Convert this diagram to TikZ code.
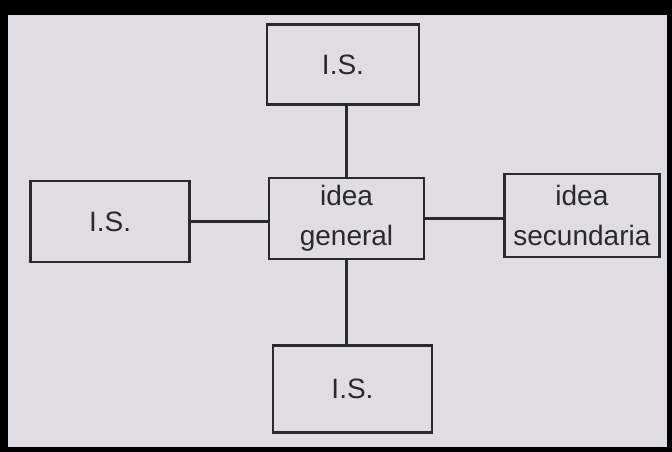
\documentclass[tikz,border=0pt]{standalone}
\usepackage{fontspec}
\setmainfont{Liberation Sans}
\usepackage{xcolor}
\usetikzlibrary{positioning}
\definecolor{paper}{HTML}{E0DDE2}
\definecolor{ink}{HTML}{2A2A2C}

\begin{document}
\begin{tikzpicture}[
        x=1pt, y=-1pt,
        node distance=75pt,
        every node/.style={font=\fontsize{28}{40}\selectfont, text=ink},
        box/.style={draw=ink, line width=2.4pt, align=center, inner sep=0pt},
        link/.style={draw=ink, line width=2.4pt}
        ]
        % Page
        \fill[black] (0,0) rectangle (672,452);
        \fill[paper] (8,15) rectangle (667,447);
        \useasboundingbox (0,0) rectangle (672,452);

        % Nodes
        \node[box, minimum width=155pt, minimum height=81pt] (gen) at (346.5,218.5) {idea\\ general};
        \node[box, minimum width=152pt, minimum height=80pt, above=71pt of gen, xshift=-3.5pt] (top) {I.S.};
        \node[box, minimum width=159pt, minimum height=81pt, left=77pt of gen, yshift=-3pt] (left) {I.S.};
        \node[box, minimum width=155pt, minimum height=83pt, right=78pt of gen, yshift=3pt] (right) {idea\\ secundaria};
        \node[box, minimum width=159pt, minimum height=87pt, below=84pt of gen, xshift=6pt] (bot) {I.S.};

        % Lines
        \draw[link] (gen.north) -- (gen.north |- top.south);
        \draw[link] (left.east) -- (left.east -| gen.west);
        \draw[link] (gen.east) -- (gen.east -| right.west);
        \draw[link] (gen.south) -- (gen.south |- bot.north);
    \end{tikzpicture}
\end{document}
